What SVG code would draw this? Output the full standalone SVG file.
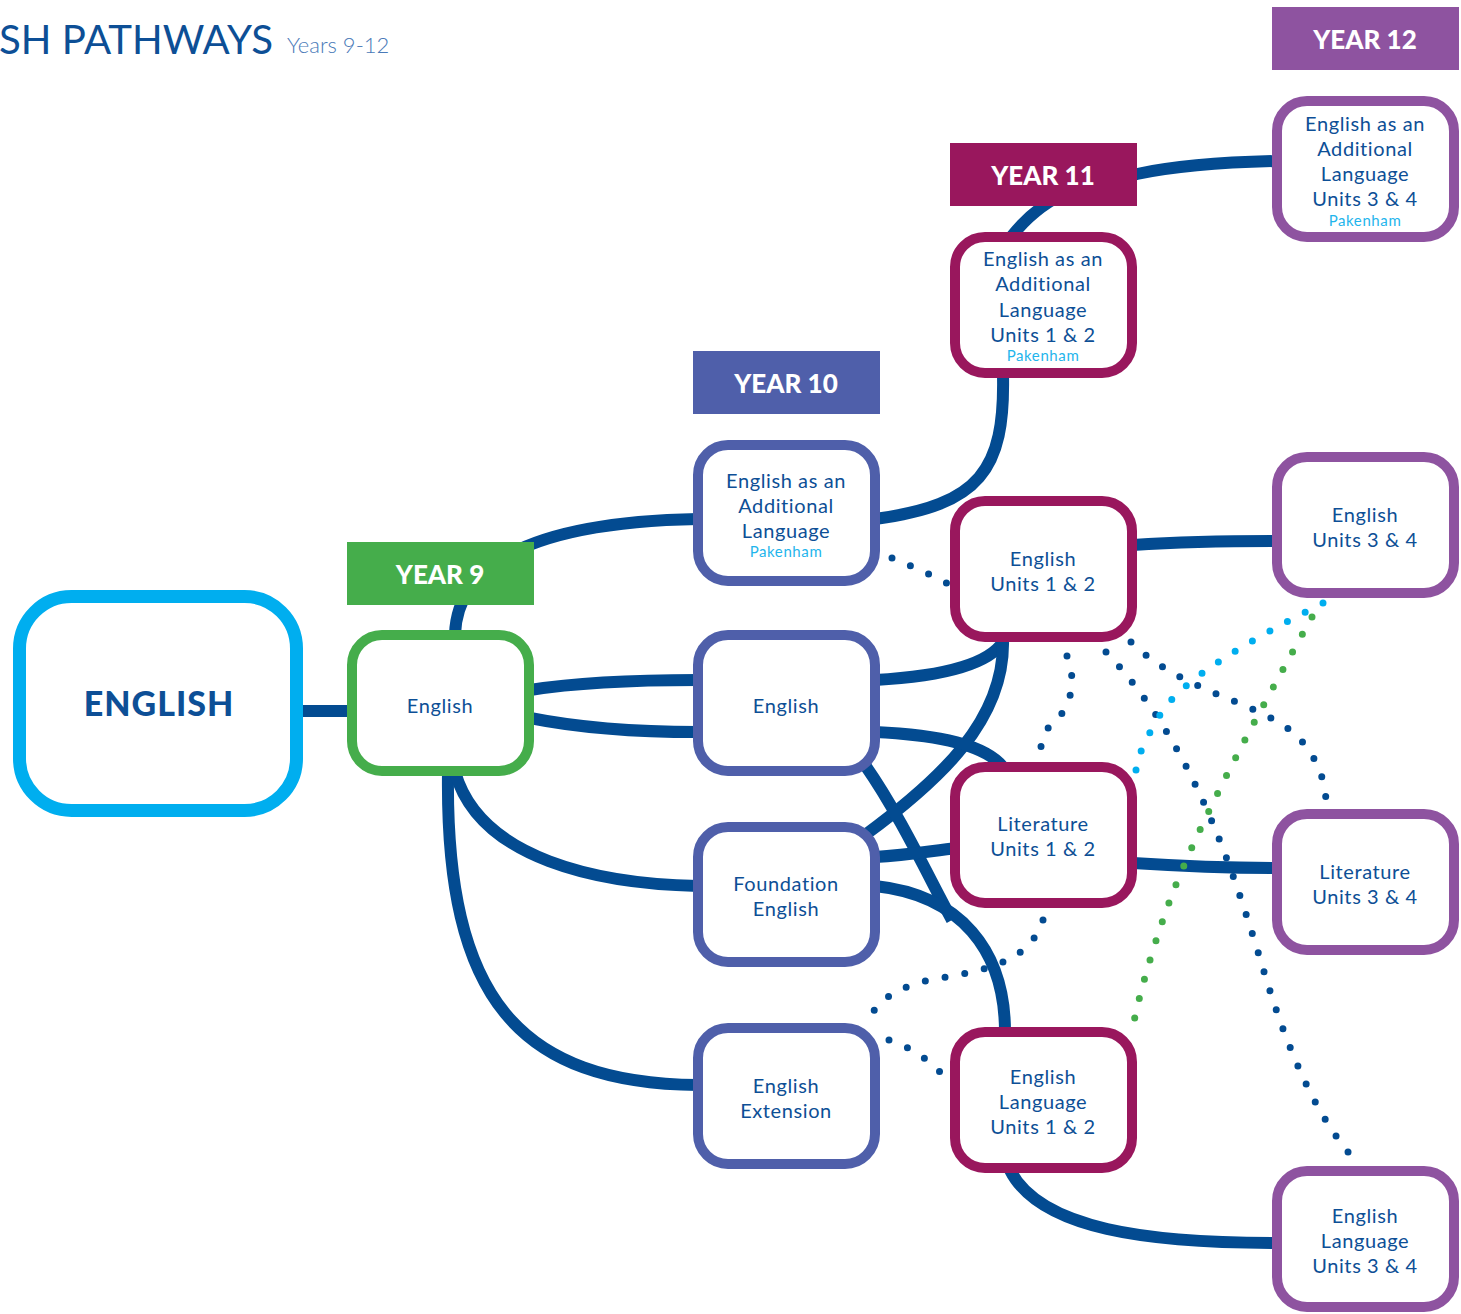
<svg xmlns="http://www.w3.org/2000/svg" width="1461" height="1314" viewBox="0 0 1461 1314">
<style>
.t{font-family:Lato,"Liberation Sans",sans-serif;fill:#0d4f96;text-anchor:middle;font-size:20px;letter-spacing:0.6px}
.pk{font-family:Lato,"Liberation Sans",sans-serif;fill:#1fb5ec;text-anchor:middle;font-size:15px;letter-spacing:0.6px}
.lbl{font-family:Lato,"Liberation Sans",sans-serif;fill:#fff;text-anchor:middle;font-size:26px;font-weight:900}
.n{fill:#fff;stroke-width:10}
.y9{stroke:#45ad4b}.y10{stroke:#4f5faa}.y11{stroke:#99175d}.y12{stroke:#8e53a0}
.c{fill:none;stroke:#034b91;stroke-width:12}
.d{fill:none;stroke-width:7;stroke-linecap:round;stroke-dasharray:0 20}
</style>
<rect width="1461" height="1314" fill="#fff"/>
<g id="title">
<text x="-1" y="54" font-family="Lato,'Liberation Sans',sans-serif" font-size="40" fill="#0d4f96" textLength="274" lengthAdjust="spacingAndGlyphs">SH PATHWAYS</text>
<text x="287" y="53" font-family="Lato,'Liberation Sans',sans-serif" font-size="22" font-weight="300" fill="#4a7ab8">Years 9-12</text>
</g>
<g id="connectors">
<path class="c" d="M300,711 L350,711"/>
<path class="c" d="M455,634 C458,560 540,522 698,519"/>
<path class="c" d="M530,690 C580,682 640,680 698,680"/>
<path class="c" d="M530,718 C580,728 640,732 698,732"/>
<path class="c" d="M448,772 C445,1000 520,1083 698,1085"/>
<path class="c" d="M455,772 C480,860 600,884 698,886"/>
<path class="c" d="M875,519 C980,505 1005,470 1003,375"/>
<path class="c" d="M1012,236 C1040,200 1080,180 1137,174 C1180,165 1230,162 1277,161"/>
<path class="c" d="M875,680 C950,676 990,662 1003,642"/>
<path class="c" d="M1003,640 C1005,720 940,780 865,835"/>
<path class="c" d="M875,732 C940,735 985,745 1003,767"/>
<path class="c" d="M865,765 C900,815 930,880 952,920"/>
<path class="c" d="M875,886 C960,895 1005,950 1005,1032"/>
<path class="c" d="M875,857 C910,855 930,851 958,848"/>
<path class="c" d="M1133,545 C1180,542 1230,541 1277,541"/>
<path class="c" d="M1133,863 C1180,866 1230,868 1277,868"/>
<path class="c" d="M1010,1170 C1040,1230 1150,1243 1277,1243"/>
<path class="d" stroke="#034b91" d="M892,558 C912,566 932,575 952,586"/>
<path class="d" stroke="#034b91" d="M1067,656 C1080,690 1065,715 1048,728 C1040,740 1040,752 1041,762"/>
<path class="d" stroke="#034b91" d="M1106,652 C1190,740 1230,860 1262,965 C1290,1060 1320,1120 1353,1158"/>
<path class="d" stroke="#034b91" d="M1131,642 C1180,690 1250,700 1290,730 C1315,750 1326,780 1326,803"/>
<path class="d" stroke="#034b91" d="M1043,920 C1030,960 990,970 940,978 C900,985 875,1000 868,1023"/>
<path class="d" stroke="#034b91" d="M889,1040 C910,1047 928,1059 943,1075"/>
<path class="d" stroke="#00aeef" d="M1323,603 C1250,640 1180,680 1160,715 C1145,740 1138,755 1136,770"/>
<path class="d" stroke="#45ad4b" d="M1312,617 C1260,710 1200,820 1170,900 C1150,955 1138,1000 1132,1031"/>
</g>
<g id="english"><rect x="19.5" y="596.5" width="277" height="214" rx="52" fill="#fff" stroke="#00aeef" stroke-width="13"/><text x="159" y="716" class="t" style="font-size:34px;font-weight:900;letter-spacing:1px">ENGLISH</text></g>
<g id="year9"><rect x="347" y="542" width="187" height="63" fill="#45ad4b"/><text x="440" y="584" class="lbl">YEAR 9</text></g>
<g id="year10"><rect x="693" y="351" width="187" height="63" fill="#4f5faa"/><text x="786" y="393" class="lbl">YEAR 10</text></g>
<g id="year11"><rect x="950" y="143" width="187" height="63" fill="#99175d"/><text x="1043" y="185" class="lbl">YEAR 11</text></g>
<g id="year12"><rect x="1272" y="7" width="187" height="63" fill="#8e53a0"/><text x="1365" y="49" class="lbl">YEAR 12</text></g>
<g id="y9-english"><rect class="n y9" x="352" y="635" width="177" height="136" rx="30"/><text x="440" y="713" class="t">English</text></g>
<g id="y10-eal"><rect class="n y10" x="698" y="445" width="177" height="136" rx="30"/><text class="t" x="786"><tspan x="786" y="488">English as an</tspan><tspan x="786" y="513">Additional</tspan><tspan x="786" y="538">Language</tspan></text><text class="pk" x="786" y="557">Pakenham</text></g>
<g id="y10-english"><rect class="n y10" x="698" y="635" width="177" height="136" rx="30"/><text x="786" y="713" class="t">English</text></g>
<g id="y10-foundation"><rect class="n y10" x="698" y="827" width="177" height="135" rx="30"/><text class="t"><tspan x="786" y="891">Foundation</tspan><tspan x="786" y="916">English</tspan></text></g>
<g id="y10-extension"><rect class="n y10" x="698" y="1028" width="177" height="136" rx="30"/><text class="t"><tspan x="786" y="1093">English</tspan><tspan x="786" y="1118">Extension</tspan></text></g>
<g id="y11-eal"><rect class="n y11" x="955" y="237" width="177" height="136" rx="30"/><text class="t"><tspan x="1043" y="266">English as an</tspan><tspan x="1043" y="291">Additional</tspan><tspan x="1043" y="317">Language</tspan><tspan x="1043" y="342">Units 1 &amp; 2</tspan></text><text class="pk" x="1043" y="361">Pakenham</text></g>
<g id="y11-english"><rect class="n y11" x="955" y="501" width="177" height="136" rx="30"/><text class="t"><tspan x="1043" y="566">English</tspan><tspan x="1043" y="591">Units 1 &amp; 2</tspan></text></g>
<g id="y11-literature"><rect class="n y11" x="955" y="767" width="177" height="136" rx="30"/><text class="t"><tspan x="1043" y="831">Literature</tspan><tspan x="1043" y="856">Units 1 &amp; 2</tspan></text></g>
<g id="y11-englang"><rect class="n y11" x="955" y="1032" width="177" height="136" rx="30"/><text class="t"><tspan x="1043" y="1084">English</tspan><tspan x="1043" y="1109">Language</tspan><tspan x="1043" y="1134">Units 1 &amp; 2</tspan></text></g>
<g id="y12-eal"><rect class="n y12" x="1277" y="101" width="177" height="136" rx="30"/><text class="t"><tspan x="1365" y="131">English as an</tspan><tspan x="1365" y="156">Additional</tspan><tspan x="1365" y="181">Language</tspan><tspan x="1365" y="206">Units 3 &amp; 4</tspan></text><text class="pk" x="1365" y="226">Pakenham</text></g>
<g id="y12-english"><rect class="n y12" x="1277" y="457" width="177" height="136" rx="30"/><text class="t"><tspan x="1365" y="522">English</tspan><tspan x="1365" y="547">Units 3 &amp; 4</tspan></text></g>
<g id="y12-literature"><rect class="n y12" x="1277" y="814" width="177" height="136" rx="30"/><text class="t"><tspan x="1365" y="879">Literature</tspan><tspan x="1365" y="904">Units 3 &amp; 4</tspan></text></g>
<g id="y12-englang"><rect class="n y12" x="1277" y="1171" width="177" height="136" rx="30"/><text class="t"><tspan x="1365" y="1223">English</tspan><tspan x="1365" y="1248">Language</tspan><tspan x="1365" y="1273">Units 3 &amp; 4</tspan></text></g>
</svg>
